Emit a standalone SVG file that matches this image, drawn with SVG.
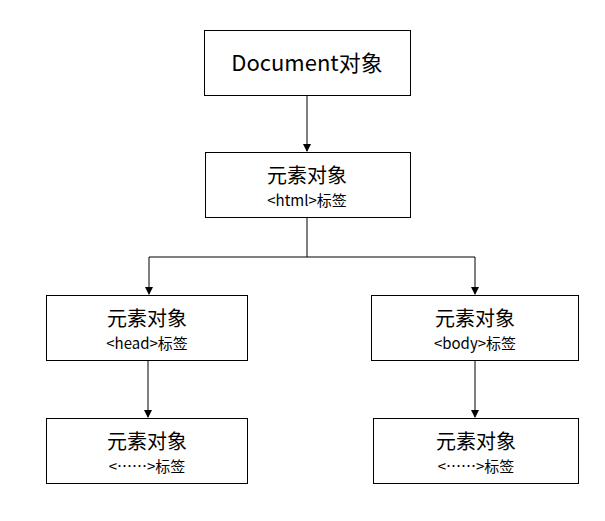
<svg xmlns="http://www.w3.org/2000/svg" width="605" height="521" viewBox="0 0 605 521">
<defs>
<marker id="a" markerWidth="8" markerHeight="8" refX="7" refY="4" orient="auto" markerUnits="userSpaceOnUse"><path d="M0,0 L8,4 L0,8 Z" fill="#000"/></marker>
<style>
rect{fill:#fff;stroke:#000;stroke-width:1}
text{font-family:"Noto Sans CJK SC","Liberation Sans",sans-serif;text-anchor:middle;fill:#000}
.t{font-size:20px}.s{font-size:15px}
.c{fill:none;stroke:#000;stroke-width:1}
</style>
</defs>
<rect width="605" height="521" style="fill:#fff;stroke:none"/>
<g id="connectors">
<path class="c" d="M307,95 V151" marker-end="url(#a)"/>
<path class="c" d="M307,217 V257 H149 V294" marker-end="url(#a)"/>
<path class="c" d="M307,257 H475 V294" marker-end="url(#a)"/>
<path class="c" d="M148,360 V417" marker-end="url(#a)"/>
<path class="c" d="M475,360 V417" marker-end="url(#a)"/>
</g>
<g id="doc"><rect x="204.5" y="30.5" width="206" height="65"/><text class="t" x="307" y="71" style="font-size:22px">Document对象</text></g>
<g id="html"><rect x="205.5" y="152.5" width="205" height="65"/><text class="t" x="307" y="183">元素对象</text><text class="s" x="307" y="206">&lt;html&gt;标签</text></g>
<g id="head"><rect x="46.5" y="295.5" width="201" height="65"/><text class="t" x="147" y="326">元素对象</text><text class="s" x="147" y="349">&lt;head&gt;标签</text></g>
<g id="body"><rect x="371.5" y="295.5" width="207" height="65"/><text class="t" x="475" y="326">元素对象</text><text class="s" x="475" y="349">&lt;body&gt;标签</text></g>
<g id="child1"><rect x="46.5" y="418.5" width="201" height="65"/><text class="t" x="147" y="449">元素对象</text><text class="s" x="147" y="472">&lt;……&gt;标签</text></g>
<g id="child2"><rect x="373.5" y="418.5" width="205" height="65"/><text class="t" x="476" y="449">元素对象</text><text class="s" x="476" y="472">&lt;……&gt;标签</text></g>
</svg>
